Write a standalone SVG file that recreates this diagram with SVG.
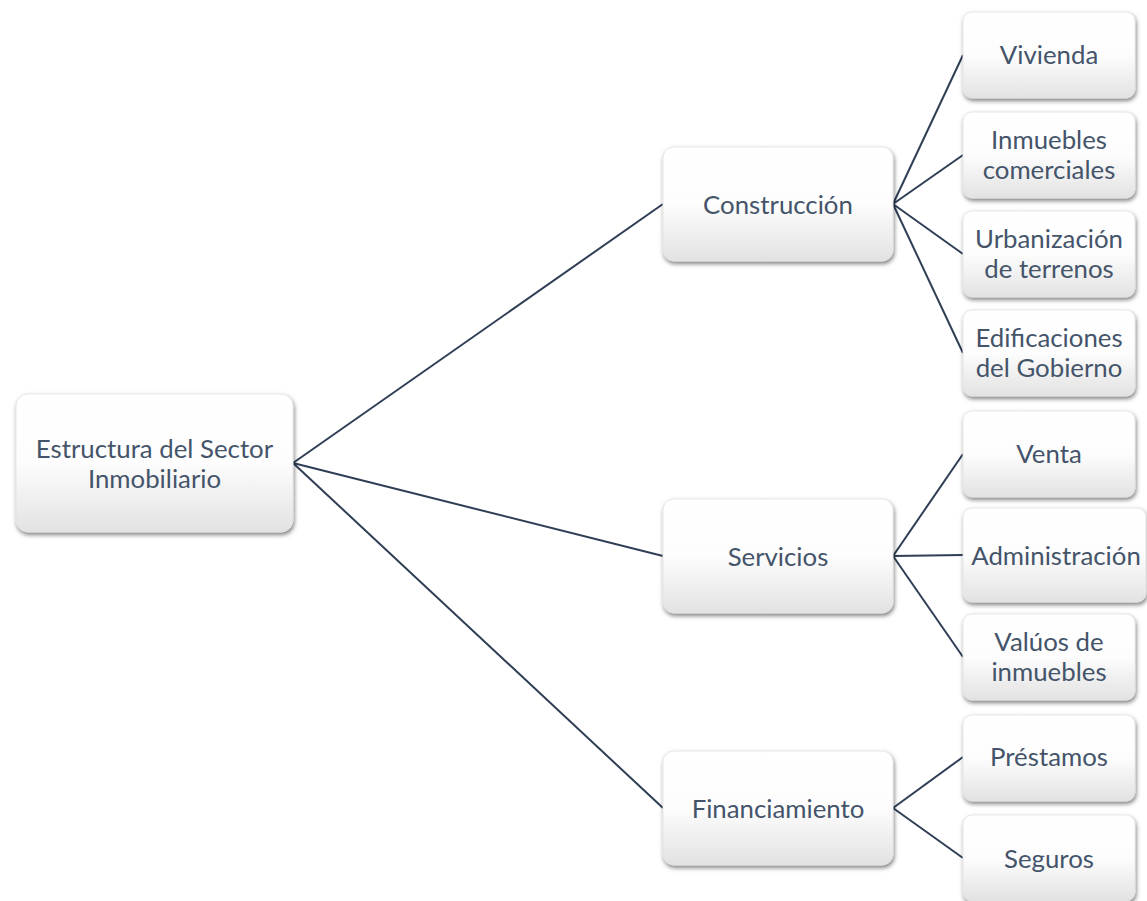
<svg xmlns="http://www.w3.org/2000/svg" width="1147" height="901" viewBox="0 0 1147 901">
  <defs>
    <linearGradient id="boxFill" x1="0" y1="0" x2="0" y2="1">
      <stop offset="0" stop-color="#ffffff"/>
      <stop offset="0.5" stop-color="#fdfdfd"/>
      <stop offset="1" stop-color="#e2e2e2"/>
    </linearGradient>
    <filter id="shadow" x="-10%" y="-10%" width="125%" height="130%">
      <feDropShadow dx="1" dy="2.5" stdDeviation="2" flood-color="#000000" flood-opacity="0.5"/>
    </filter>
  </defs>
  <style>
    .box { fill: url(#boxFill); stroke: #e2e2e2; stroke-width: 0.8; filter: url(#shadow); }
    .lbl { font-family: Lato, "Open Sans", sans-serif; font-size: 25.8px; fill: #44546a; text-anchor: middle; dominant-baseline: central; }
    .edge { stroke: #2f3e55; stroke-width: 2; fill: none; }
  </style>
  <rect width="1147" height="901" fill="#ffffff"/>

  <g id="connectors">
    <line class="edge" x1="293" y1="463" x2="663" y2="204"/>
    <line class="edge" x1="293" y1="463" x2="663" y2="556"/>
    <line class="edge" x1="293" y1="463" x2="663" y2="808"/>
    <line class="edge" x1="893" y1="204" x2="963" y2="55"/>
    <line class="edge" x1="893" y1="204" x2="963" y2="155"/>
    <line class="edge" x1="893" y1="204" x2="963" y2="254"/>
    <line class="edge" x1="893" y1="204" x2="963" y2="353"/>
    <line class="edge" x1="893" y1="556" x2="963" y2="454"/>
    <line class="edge" x1="893" y1="556" x2="963" y2="555"/>
    <line class="edge" x1="893" y1="556" x2="963" y2="657"/>
    <line class="edge" x1="893" y1="808" x2="963" y2="757"/>
    <line class="edge" x1="893" y1="808" x2="963" y2="858"/>
  </g>

  <g id="root">
    <rect class="box" x="16" y="394" width="277" height="138" rx="12"/>
    <text class="lbl" x="154.5" y="448">Estructura del Sector</text>
    <text class="lbl" x="154.5" y="478">Inmobiliario</text>
  </g>

  <g id="construccion">
    <rect class="box" x="663" y="147" width="230" height="114" rx="11"/>
    <text class="lbl" x="778" y="204">Construcción</text>
  </g>
  <g id="servicios">
    <rect class="box" x="663" y="499" width="230" height="114" rx="11"/>
    <text class="lbl" x="778" y="556">Servicios</text>
  </g>
  <g id="financiamiento">
    <rect class="box" x="663" y="751" width="230" height="114" rx="11"/>
    <text class="lbl" x="778" y="808">Financiamiento</text>
  </g>

  <g id="vivienda">
    <rect class="box" x="963" y="12" width="172" height="86" rx="9"/>
    <text class="lbl" x="1049" y="54">Vivienda</text>
  </g>
  <g id="inmuebles-comerciales">
    <rect class="box" x="963" y="112" width="172" height="86" rx="9"/>
    <text class="lbl" x="1049" y="139">Inmuebles</text>
    <text class="lbl" x="1049" y="169">comerciales</text>
  </g>
  <g id="urbanizacion">
    <rect class="box" x="963" y="211" width="172" height="86" rx="9"/>
    <text class="lbl" x="1049" y="238">Urbanización</text>
    <text class="lbl" x="1049" y="268">de terrenos</text>
  </g>
  <g id="edificaciones">
    <rect class="box" x="963" y="310" width="172" height="86" rx="9"/>
    <text class="lbl" x="1049" y="337">Edificaciones</text>
    <text class="lbl" x="1049" y="367">del Gobierno</text>
  </g>
  <g id="venta">
    <rect class="box" x="963" y="411" width="172" height="86" rx="9"/>
    <text class="lbl" x="1049" y="453">Venta</text>
  </g>
  <g id="administracion">
    <rect class="box" x="963" y="508" width="183" height="94" rx="9"/>
    <text class="lbl" x="1056" y="555">Administración</text>
  </g>
  <g id="valuos">
    <rect class="box" x="963" y="614" width="172" height="86" rx="9"/>
    <text class="lbl" x="1049" y="641">Valúos de</text>
    <text class="lbl" x="1049" y="671">inmuebles</text>
  </g>
  <g id="prestamos">
    <rect class="box" x="963" y="715" width="172" height="86" rx="9"/>
    <text class="lbl" x="1049" y="756">Préstamos</text>
  </g>
  <g id="seguros">
    <rect class="box" x="963" y="815" width="172" height="86" rx="9"/>
    <text class="lbl" x="1049" y="858">Seguros</text>
  </g>
</svg>
